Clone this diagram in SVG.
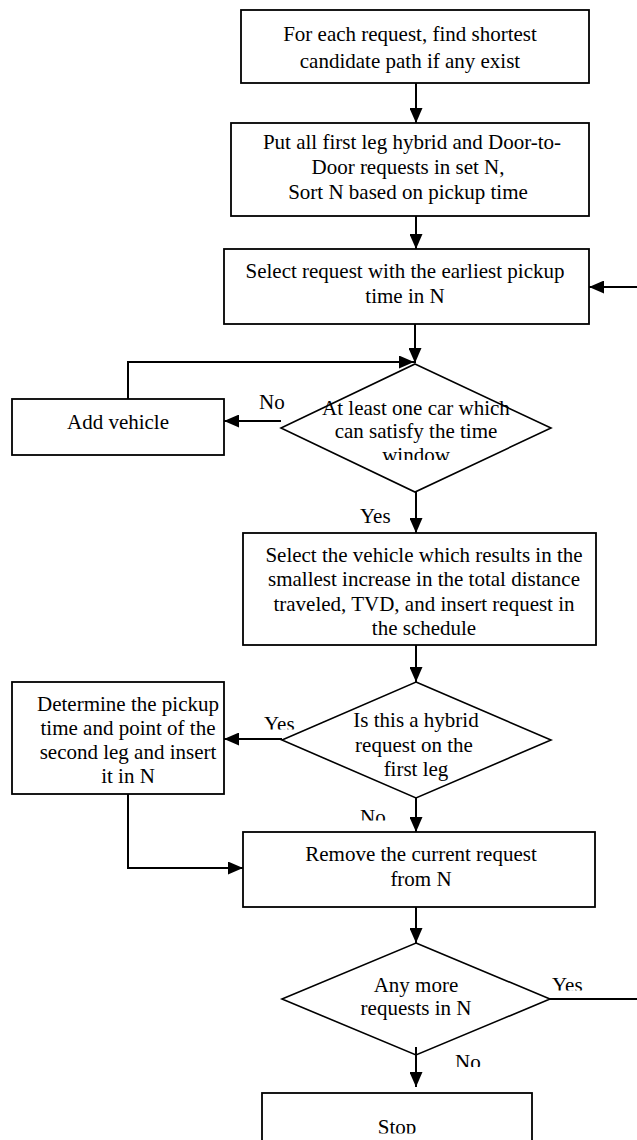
<svg xmlns="http://www.w3.org/2000/svg" width="637" height="1140" viewBox="0 0 637 1140">
<style>
.box{fill:#fff;stroke:#000;stroke-width:1.8}
.dia{fill:#fff;stroke:#000;stroke-width:1.6}
.t{font-family:"Liberation Serif","Times New Roman",serif;font-size:21px;fill:#000;text-anchor:middle}
.l{font-family:"Liberation Serif","Times New Roman",serif;font-size:21px;fill:#000}
.c{fill:none;stroke:#000;stroke-width:2}
</style>
<defs>
<marker id="ah" viewBox="0 0 15 13" refX="15" refY="6.5" markerWidth="15" markerHeight="13" markerUnits="userSpaceOnUse" orient="auto">
<path d="M0,0 L15,6.5 L0,13 z" fill="#000"/>
</marker>
<clipPath id="clipD1"><rect x="270" y="360" width="290" height="100"/></clipPath>
<clipPath id="clipYes2"><rect x="250" y="700" width="60" height="29.5"/></clipPath>
<clipPath id="clipNo2"><rect x="350" y="800" width="50" height="20.5"/></clipPath>
<clipPath id="clipYes3"><rect x="545" y="960" width="60" height="30.5"/></clipPath>
<clipPath id="clipNo3"><rect x="445" y="1040" width="50" height="27"/></clipPath>
<clipPath id="clipStop"><rect x="300" y="1100" width="200" height="33.5"/></clipPath>
</defs>
<rect width="637" height="1140" fill="#fff"/>

<g id="connectors">
<path class="c" d="M416,83 V123" marker-end="url(#ah)"/>
<path class="c" d="M416,216 V249" marker-end="url(#ah)"/>
<path class="c" d="M415,324 V363" marker-end="url(#ah)"/>
<path class="c" d="M128,399 V362 H414" marker-end="url(#ah)"/>
<path class="c" d="M281,421 H224" marker-end="url(#ah)"/>
<path class="c" d="M416,492 V533" marker-end="url(#ah)"/>
<path class="c" d="M416,645 V682" marker-end="url(#ah)"/>
<path class="c" d="M282,739 H224" marker-end="url(#ah)"/>
<path class="c" d="M128,794 V868 H243" marker-end="url(#ah)"/>
<path class="c" d="M416,798 V832" marker-end="url(#ah)"/>
<path class="c" d="M416,907 V943" marker-end="url(#ah)"/>
<path class="c" d="M550,999 H641 V287 H589" marker-end="url(#ah)"/>
</g>

<g id="n1">
<rect class="box" x="241" y="10" width="348" height="73"/>
<text class="t" x="410" y="41">For each request, find shortest</text>
<text class="t" x="410" y="68">candidate path if any exist</text>
</g>

<g id="n2">
<rect class="box" x="231" y="123" width="358" height="93"/>
<text class="t" x="412" y="149">Put all first leg hybrid and Door-to-</text>
<text class="t" x="408" y="174">Door requests in set N,</text>
<text class="t" x="408" y="199">Sort N based on pickup time</text>
</g>

<g id="n3">
<rect class="box" x="224" y="249" width="365" height="75"/>
<text class="t" x="405" y="278">Select request with the earliest pickup</text>
<text class="t" x="405" y="303">time in N</text>
</g>

<g id="d1">
<polygon class="dia" points="415,364 551,428 415,492 281,428"/>
<g clip-path="url(#clipD1)">
<text class="t" x="416" y="415">At least one car which</text>
<text class="t" x="416" y="438">can satisfy the time</text>
<text class="t" x="416" y="462">window</text>
</g>
</g>

<g id="n4">
<rect class="box" x="12" y="399" width="212" height="56"/>
<text class="t" x="118" y="429">Add vehicle</text>
</g>

<g id="labels1">
<text class="l" x="259" y="409">No</text>
<text class="l" x="360" y="523">Yes</text>
</g>

<g id="n5">
<rect class="box" x="243" y="533" width="353" height="112"/>
<text class="t" x="424" y="562">Select the vehicle which results in the</text>
<text class="t" x="424" y="586">smallest increase in the total distance</text>
<text class="t" x="424" y="611">traveled, TVD, and insert request in</text>
<text class="t" x="424" y="635">the schedule</text>
</g>

<g id="d2">
<polygon class="dia" points="416,682 551,740 416,798 282,740"/>
<text class="t" x="416" y="727">Is this a hybrid</text>
<text class="t" x="414" y="752">request on the</text>
<text class="t" x="416" y="776">first leg</text>
</g>

<g id="n6">
<rect class="box" x="12" y="682" width="212" height="112"/>
<text class="t" x="128" y="711">Determine the pickup</text>
<text class="t" x="128" y="735">time and point of the</text>
<text class="t" x="128" y="759">second leg and insert</text>
<text class="t" x="128" y="783">it in N</text>
</g>

<g id="labels2">
<text class="l" x="264" y="731" clip-path="url(#clipYes2)">Yes</text>
<text class="l" x="360" y="824" clip-path="url(#clipNo2)">No</text>
</g>

<g id="n7">
<rect class="box" x="243" y="832" width="352" height="75"/>
<text class="t" x="421" y="861">Remove the current request</text>
<text class="t" x="421" y="886">from N</text>
</g>

<g id="d3">
<polygon class="dia" points="416,943 550,999 416,1055 282,999"/>
<text class="t" x="416" y="992">Any more</text>
<text class="t" x="416" y="1015">requests in N</text>
</g>

<g id="labels3">
<text class="l" x="552" y="992" clip-path="url(#clipYes3)">Yes</text>
<text class="l" x="455" y="1069" clip-path="url(#clipNo3)">No</text>
</g>

<g id="connector-no3">
<path class="c" d="M416,1047 V1087" marker-end="url(#ah)"/>
</g>

<g id="n8">
<rect class="box" x="262" y="1093" width="270" height="60"/>
<text class="t" x="397" y="1134" clip-path="url(#clipStop)">Stop</text>
</g>
</svg>
